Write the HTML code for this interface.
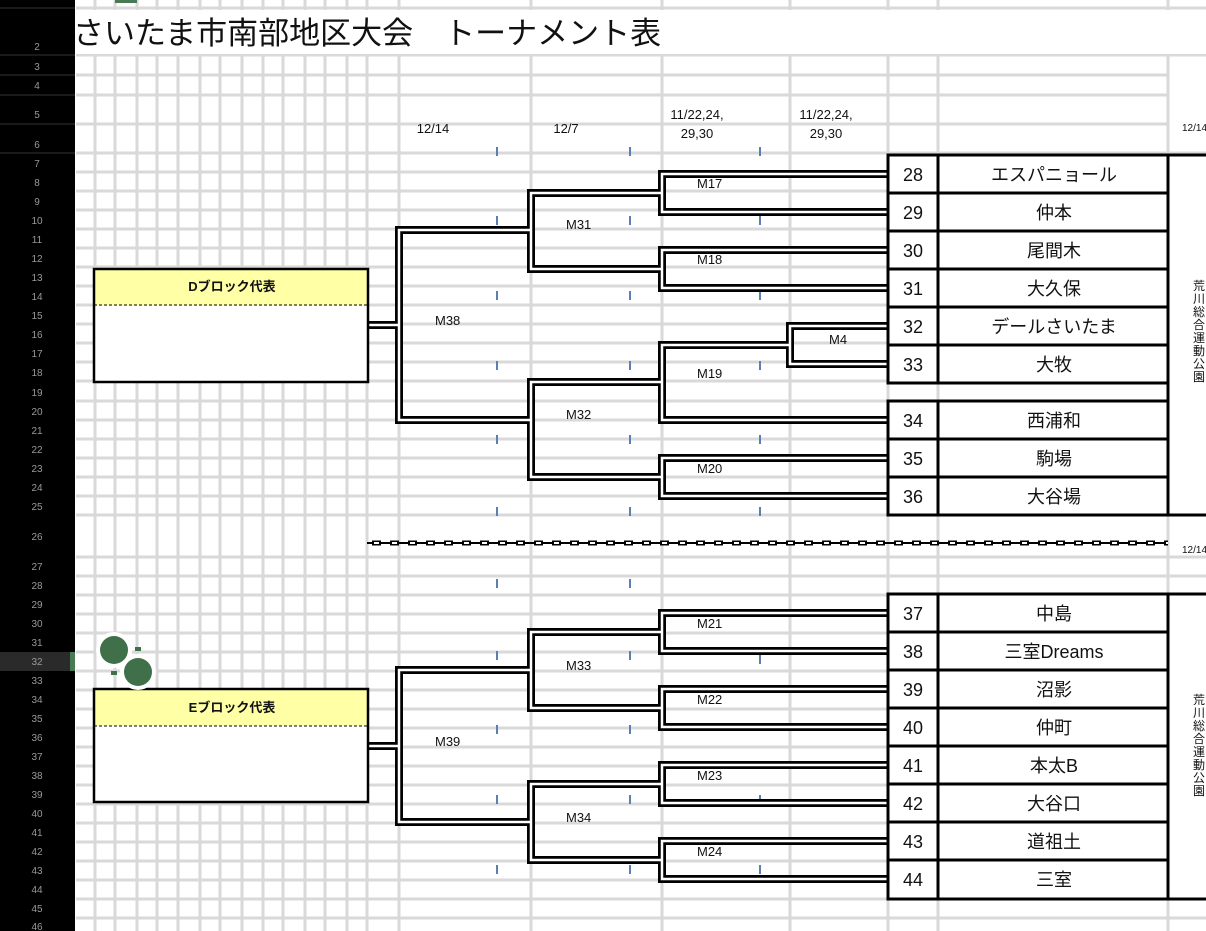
<!DOCTYPE html>
<html><head><meta charset="utf-8"><style>
html,body{margin:0;padding:0;background:#fff;}
svg{display:block;font-family:"Liberation Sans","Noto Sans CJK JP",sans-serif;}
</style></head><body>
<svg width="1206" height="931" viewBox="0 0 1206 931" xmlns="http://www.w3.org/2000/svg">
<rect width="1206" height="931" fill="#fff"/>
<g stroke="#d9d9d9" stroke-width="3">
<line x1="76" y1="8" x2="1206" y2="8"/><line x1="76" y1="55" x2="1206" y2="55"/>
<line x1="76" y1="75" x2="1168" y2="75"/><line x1="76" y1="95" x2="1168" y2="95"/>
<line x1="76" y1="124" x2="1168" y2="124"/><line x1="76" y1="153" x2="1206" y2="153"/>
<line x1="76" y1="172" x2="888" y2="172"/><line x1="76" y1="191" x2="888" y2="191"/><line x1="76" y1="210" x2="888" y2="210"/><line x1="76" y1="229" x2="888" y2="229"/><line x1="76" y1="248" x2="888" y2="248"/><line x1="76" y1="267" x2="888" y2="267"/><line x1="76" y1="286" x2="888" y2="286"/><line x1="76" y1="305" x2="888" y2="305"/><line x1="76" y1="324" x2="888" y2="324"/><line x1="76" y1="343" x2="888" y2="343"/><line x1="76" y1="362" x2="888" y2="362"/><line x1="76" y1="381" x2="888" y2="381"/><line x1="76" y1="401" x2="888" y2="401"/><line x1="76" y1="420" x2="888" y2="420"/><line x1="76" y1="439" x2="888" y2="439"/><line x1="76" y1="458" x2="888" y2="458"/><line x1="76" y1="477" x2="888" y2="477"/><line x1="76" y1="496" x2="888" y2="496"/><line x1="76" y1="515" x2="1206" y2="515"/><line x1="76" y1="557" x2="1206" y2="557"/>
<line x1="76" y1="576" x2="1206" y2="576"/><line x1="76" y1="595" x2="888" y2="595"/><line x1="76" y1="614" x2="888" y2="614"/><line x1="76" y1="633" x2="888" y2="633"/><line x1="76" y1="652" x2="888" y2="652"/><line x1="76" y1="671" x2="888" y2="671"/><line x1="76" y1="690" x2="888" y2="690"/><line x1="76" y1="709" x2="888" y2="709"/><line x1="76" y1="728" x2="888" y2="728"/><line x1="76" y1="747" x2="888" y2="747"/><line x1="76" y1="766" x2="888" y2="766"/><line x1="76" y1="785" x2="888" y2="785"/><line x1="76" y1="804" x2="888" y2="804"/><line x1="76" y1="823" x2="888" y2="823"/><line x1="76" y1="842" x2="888" y2="842"/><line x1="76" y1="861" x2="888" y2="861"/><line x1="76" y1="880" x2="888" y2="880"/><line x1="76" y1="899" x2="1206" y2="899"/><line x1="76" y1="918" x2="1206" y2="918"/>
<line x1="95" y1="0" x2="95" y2="931"/><line x1="115" y1="0" x2="115" y2="931"/><line x1="137" y1="0" x2="137" y2="931"/><line x1="157" y1="0" x2="157" y2="931"/><line x1="178" y1="0" x2="178" y2="931"/><line x1="200" y1="0" x2="200" y2="931"/><line x1="220" y1="0" x2="220" y2="931"/><line x1="242" y1="0" x2="242" y2="931"/><line x1="263" y1="0" x2="263" y2="931"/><line x1="283" y1="0" x2="283" y2="931"/><line x1="305" y1="0" x2="305" y2="931"/><line x1="325" y1="0" x2="325" y2="931"/><line x1="347" y1="0" x2="347" y2="931"/><line x1="367" y1="0" x2="367" y2="931"/><line x1="399" y1="0" x2="399" y2="931"/><line x1="531" y1="0" x2="531" y2="931"/><line x1="662" y1="0" x2="662" y2="931"/><line x1="790" y1="0" x2="790" y2="931"/><line x1="888" y1="0" x2="888" y2="931"/><line x1="938" y1="0" x2="938" y2="931"/><line x1="1168" y1="0" x2="1168" y2="931"/>
</g>
<rect x="76" y="10" width="1130" height="44" fill="#fff"/>
<rect x="115" y="0" width="22" height="3" fill="#4a7a55"/>
<text x="73" y="44" font-size="31" fill="#111">さいたま市南部地区大会　トーナメント表</text>
<rect x="0" y="0" width="75" height="931" fill="#000"/>
<rect x="0" y="652" width="75" height="19" fill="#2a2a2a"/>
<rect x="70" y="652" width="5" height="19" fill="#4a7a55"/>
<g stroke="#333" stroke-width="1">
<line x1="0" y1="8" x2="75" y2="8"/><line x1="0" y1="55" x2="75" y2="55"/><line x1="0" y1="75" x2="75" y2="75"/><line x1="0" y1="95" x2="75" y2="95"/><line x1="0" y1="124" x2="75" y2="124"/><line x1="0" y1="153" x2="75" y2="153"/>
</g>
<g font-size="10" fill="#999" text-anchor="middle">
<text x="37" y="50">2</text><text x="37" y="70">3</text><text x="37" y="89">4</text><text x="37" y="118">5</text><text x="37" y="148">6</text>
<text x="37" y="167">7</text><text x="37" y="186">8</text><text x="37" y="205">9</text><text x="37" y="224">10</text><text x="37" y="243">11</text><text x="37" y="262">12</text><text x="37" y="281">13</text><text x="37" y="300">14</text><text x="37" y="319">15</text><text x="37" y="338">16</text><text x="37" y="357">17</text><text x="37" y="376">18</text><text x="37" y="396">19</text><text x="37" y="415">20</text><text x="37" y="434">21</text><text x="37" y="453">22</text><text x="37" y="472">23</text><text x="37" y="491">24</text><text x="37" y="510">25</text><text x="37" y="540">26</text>
<text x="37" y="570">27</text><text x="37" y="589">28</text><text x="37" y="608">29</text><text x="37" y="627">30</text><text x="37" y="646">31</text><text x="37" y="665">32</text><text x="37" y="684">33</text><text x="37" y="703">34</text><text x="37" y="722">35</text><text x="37" y="741">36</text><text x="37" y="760">37</text><text x="37" y="779">38</text><text x="37" y="798">39</text><text x="37" y="817">40</text><text x="37" y="836">41</text><text x="37" y="855">42</text><text x="37" y="874">43</text><text x="37" y="893">44</text><text x="37" y="912">45</text><text x="37" y="930">46</text>
</g>
<g font-size="13" fill="#111" text-anchor="middle">
<text x="433" y="133">12/14</text><text x="566" y="133">12/7</text>
<text x="697" y="119">11/22,24,</text><text x="697" y="138">29,30</text>
<text x="826" y="119">11/22,24,</text><text x="826" y="138">29,30</text>
</g>
<text x="1182" y="131" font-size="10" fill="#111">12/14</text>
<text x="1182" y="553" font-size="10" fill="#111">12/14</text>
<g fill="#5b7fb5">
<rect x="496" y="147" width="2" height="9"/><rect x="629" y="147" width="2" height="9"/><rect x="759" y="147" width="2" height="9"/>
<rect x="496" y="216" width="2" height="9"/><rect x="629" y="216" width="2" height="9"/><rect x="759" y="216" width="2" height="9"/>
<rect x="496" y="291" width="2" height="9"/><rect x="629" y="291" width="2" height="9"/><rect x="759" y="291" width="2" height="9"/>
<rect x="496" y="361" width="2" height="9"/><rect x="629" y="361" width="2" height="9"/><rect x="759" y="361" width="2" height="9"/>
<rect x="496" y="435" width="2" height="9"/><rect x="629" y="435" width="2" height="9"/><rect x="759" y="435" width="2" height="9"/>
<rect x="496" y="507" width="2" height="9"/><rect x="629" y="507" width="2" height="9"/><rect x="759" y="507" width="2" height="9"/>
<rect x="496" y="579" width="2" height="9"/><rect x="629" y="579" width="2" height="9"/>
<rect x="496" y="651" width="2" height="9"/><rect x="629" y="651" width="2" height="9"/><rect x="759" y="655" width="2" height="9"/>
<rect x="496" y="725" width="2" height="9"/><rect x="629" y="725" width="2" height="9"/>
<rect x="496" y="795" width="2" height="9"/><rect x="629" y="795" width="2" height="9"/><rect x="759" y="795" width="2" height="9"/>
<rect x="496" y="865" width="2" height="9"/><rect x="629" y="865" width="2" height="9"/><rect x="759" y="865" width="2" height="9"/>
</g>
<g fill="none" stroke-linejoin="miter">
<g stroke="#000" stroke-width="8">
<path d="M888 174H662V212H888M888 250H662V288H888M662 193H531V269H662M888 326H790V364H888M790 345H662V420H888M888 458H662V496H888M662 382H531V477H662M531 230H399V420H531M367 325H399"/>
<path d="M888 613H662V651H888M888 689H662V727H888M662 632H531V708H662M888 765H662V803H888M888 841H662V879H888M662 784H531V860H662M531 670H399V822H531M367 746H399"/>
</g>
<g stroke="#fff" stroke-width="2.5">
<path d="M888 174H662V212H888M888 250H662V288H888M662 193H531V269H662M888 326H790V364H888M790 345H662V420H888M888 458H662V496H888M662 382H531V477H662M531 230H399V420H531M367 325H399"/>
<path d="M888 613H662V651H888M888 689H662V727H888M662 632H531V708H662M888 765H662V803H888M888 841H662V879H888M662 784H531V860H662M531 670H399V822H531M367 746H399"/>
</g>
</g>
<g font-size="13" fill="#111">
<text x="697" y="188">M17</text><text x="566" y="229">M31</text><text x="697" y="264">M18</text><text x="435" y="325">M38</text><text x="829" y="344">M4</text><text x="697" y="378">M19</text><text x="566" y="419">M32</text><text x="697" y="473">M20</text>
<text x="697" y="628">M21</text><text x="566" y="670">M33</text><text x="697" y="704">M22</text><text x="435" y="746">M39</text><text x="697" y="780">M23</text><text x="566" y="822">M34</text><text x="697" y="856">M24</text>
</g>
<line x1="367" y1="543" x2="1168" y2="543" stroke="#000" stroke-width="2"/>
<line x1="372" y1="543" x2="1168" y2="543" stroke="#000" stroke-width="5" stroke-dasharray="9 9" />
<line x1="374" y1="543" x2="1168" y2="543" stroke="#fff" stroke-width="2" stroke-dasharray="5 13"/>
<g fill="#fff" stroke="#000" stroke-width="3">
<rect x="888" y="155" width="280" height="228"/><rect x="888" y="401" width="280" height="114"/>
<rect x="888" y="594" width="280" height="305"/>
<rect x="1168" y="155" width="45" height="360"/><rect x="1168" y="594" width="45" height="305"/>
</g>
<g stroke="#000" stroke-width="3">
<line x1="938" y1="155" x2="938" y2="383"/><line x1="938" y1="401" x2="938" y2="515"/><line x1="938" y1="594" x2="938" y2="899"/>
<line x1="888" y1="193" x2="1168" y2="193"/><line x1="888" y1="231" x2="1168" y2="231"/><line x1="888" y1="269" x2="1168" y2="269"/><line x1="888" y1="307" x2="1168" y2="307"/><line x1="888" y1="345" x2="1168" y2="345"/>
<line x1="888" y1="439" x2="1168" y2="439"/><line x1="888" y1="477" x2="1168" y2="477"/>
<line x1="888" y1="632" x2="1168" y2="632"/><line x1="888" y1="670" x2="1168" y2="670"/><line x1="888" y1="708" x2="1168" y2="708"/><line x1="888" y1="746" x2="1168" y2="746"/><line x1="888" y1="784" x2="1168" y2="784"/><line x1="888" y1="822" x2="1168" y2="822"/><line x1="888" y1="860" x2="1168" y2="860"/>
</g>
<g font-size="18" fill="#111" text-anchor="middle">
<text x="913" y="181">28</text><text x="913" y="219">29</text><text x="913" y="257">30</text><text x="913" y="295">31</text><text x="913" y="333">32</text><text x="913" y="371">33</text><text x="913" y="427">34</text><text x="913" y="465">35</text><text x="913" y="503">36</text>
<text x="913" y="620">37</text><text x="913" y="658">38</text><text x="913" y="696">39</text><text x="913" y="734">40</text><text x="913" y="772">41</text><text x="913" y="810">42</text><text x="913" y="848">43</text><text x="913" y="886">44</text>
</g>
<g font-size="18" fill="#111" text-anchor="middle">
<text x="1054" y="181">エスパニョール</text><text x="1054" y="219">仲本</text><text x="1054" y="257">尾間木</text><text x="1054" y="295">大久保</text><text x="1054" y="333">デールさいたま</text><text x="1054" y="371">大牧</text><text x="1054" y="427">西浦和</text><text x="1054" y="465">駒場</text><text x="1054" y="503">大谷場</text>
<text x="1054" y="620">中島</text><text x="1054" y="658">三室Dreams</text><text x="1054" y="696">沼影</text><text x="1054" y="734">仲町</text><text x="1054" y="772">本太B</text><text x="1054" y="810">大谷口</text><text x="1054" y="848">道祖土</text><text x="1054" y="886">三室</text>
</g>
<g font-size="12" fill="#111" text-anchor="middle">
<text x="1199" y="290">荒</text><text x="1199" y="303">川</text><text x="1199" y="316">総</text><text x="1199" y="329">合</text><text x="1199" y="342">運</text><text x="1199" y="355">動</text><text x="1199" y="368">公</text><text x="1199" y="381">園</text>
<text x="1199" y="704">荒</text><text x="1199" y="717">川</text><text x="1199" y="730">総</text><text x="1199" y="743">合</text><text x="1199" y="756">運</text><text x="1199" y="769">動</text><text x="1199" y="782">公</text><text x="1199" y="795">園</text>
</g>
<rect x="94" y="269" width="274" height="37" fill="#ffffa6"/>
<rect x="94" y="306" width="274" height="76" fill="#fff"/>
<line x1="94" y1="305" x2="368" y2="305" stroke="#000" stroke-width="1" stroke-dasharray="3 2"/>
<rect x="94" y="269" width="274" height="113" fill="none" stroke="#000" stroke-width="2.5"/>
<text x="232" y="291" font-size="13" font-weight="bold" text-anchor="middle" fill="#111">Dブロック代表</text>
<rect x="94" y="689" width="274" height="37" fill="#ffffa6"/>
<rect x="94" y="726" width="274" height="76" fill="#fff"/>
<line x1="94" y1="726" x2="368" y2="726" stroke="#000" stroke-width="1" stroke-dasharray="3 2"/>
<rect x="94" y="689" width="274" height="113" fill="none" stroke="#000" stroke-width="2.5"/>
<text x="232" y="712" font-size="13" font-weight="bold" text-anchor="middle" fill="#111">Eブロック代表</text>
<circle cx="114" cy="650" r="18" fill="#fff"/><circle cx="114" cy="650" r="14" fill="#3f7049"/>
<circle cx="138" cy="672" r="18" fill="#fff"/><circle cx="138" cy="672" r="14" fill="#3f7049"/>
<rect x="135" y="647" width="6" height="4" fill="#3f7049"/><rect x="111" y="671" width="6" height="4" fill="#3f7049"/>
</svg>
</body></html>
